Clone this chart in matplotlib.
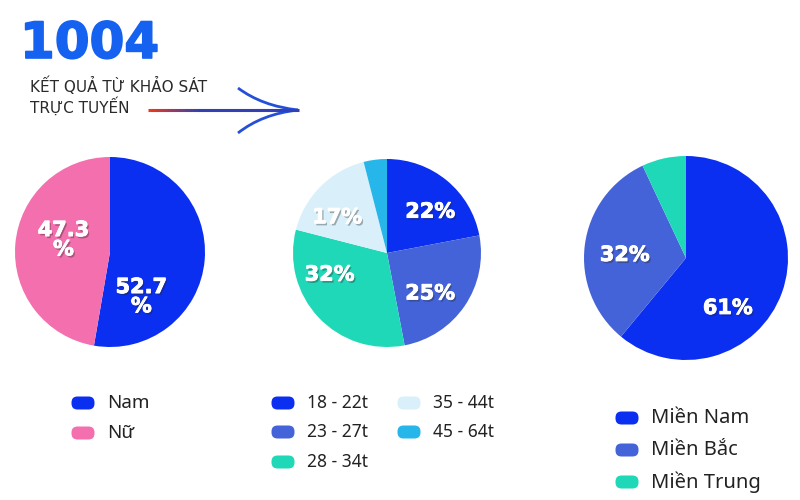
import matplotlib.pyplot as plt
import matplotlib.patheffects as pe
import numpy as np
from matplotlib.patches import FancyBboxPatch, PathPatch
from matplotlib.path import Path
from matplotlib.collections import LineCollection

plt.rcParams['font.family'] = ['Noto Sans', 'DejaVu Sans']

# data
gender_labels = ['Nam', 'Nữ']
gender_values = [52.7, 47.3]
gender_text = ['52.7\n%', '47.3\n%']
gender_colors = ['#0b2ff0', '#f46fae']

age_labels = ['18 - 22t', '23 - 27t', '28 - 34t', '35 - 44t', '45 - 64t']
age_values = [22, 25, 32, 17, 4]
age_text = ['22%', '25%', '32%', '17%', '']
age_colors = ['#0b2ff0', '#4563d8', '#1fd8b8', '#d9f0fb', '#27b6ea']

region_labels = ['Miền Nam', 'Miền Bắc', 'Miền Trung']
region_values = [61, 32, 7]
region_text = ['61%', '32%', '']
region_colors = ['#0b2ff0', '#4563d8', '#1fd8b8']

W, H = 800, 500
fig = plt.figure(figsize=(8, 5), dpi=100)
fig.patch.set_facecolor('white')

# overlay axes in pixel coords
ov = fig.add_axes([0, 0, 1, 1])
ov.set_xlim(0, W)
ov.set_ylim(H, 0)
ov.axis('off')


def pie_at(cx, cy, r, values, colors, texts, text_pos):
    ax = fig.add_axes([(cx - r) / W, (H - cy - r) / H, 2 * r / W, 2 * r / H])
    ax.pie(values, colors=colors, startangle=90, counterclock=False,
           radius=1, wedgeprops=dict(linewidth=0))
    ax.set_xlim(-1, 1)
    ax.set_ylim(-1, 1)
    ax.set_aspect('equal')
    ax.axis('off')
    fx = [pe.withSimplePatchShadow(offset=(1.2, -1.5), shadow_rgbFace='#222222', alpha=0.35),
          pe.withStroke(linewidth=0.6, foreground='white')]
    for t, (x, y) in zip(texts, text_pos):
        if t:
            ax.text(x, y, t, color='white', fontsize=15, fontweight='bold',
                    ha='center', va='center', linespacing=0.95,
                    family=['DejaVu Sans'], path_effects=fx)


pie_at(110, 252, 95, gender_values, gender_colors, gender_text,
       [(0.33, -0.47), (-0.49, 0.13)])
pie_at(387, 253, 94, age_values, age_colors, age_text,
       [(0.46, 0.44), (0.46, -0.43), (-0.61, -0.23), (-0.53, 0.38), (0, 0)])
pie_at(686, 258, 102, region_values, region_colors, region_text,
       [(0.41, -0.49), (-0.6, 0.03), (0, 0)])


def legend_item(x, y, color, label, size):
    ov.add_patch(FancyBboxPatch((x - 9, y - 4), 18, 8,
                                boxstyle='round,pad=2.5,rounding_size=6',
                                facecolor=color, edgecolor='none'))
    ov.text(x + 24, y, label, fontsize=size, color='#222222', va='center', ha='left')


for i, (lab, c) in enumerate(zip(gender_labels, gender_colors)):
    legend_item(83, 403 + 30 * i, c, lab, 13.5)

age_pos = [(283, 403), (283, 432), (283, 462), (409, 403), (409, 432)]
for (x, y), lab, c in zip(age_pos, age_labels, age_colors):
    legend_item(x, y, c, lab, 12.5)

for i, (lab, c) in enumerate(zip(region_labels, region_colors)):
    legend_item(627, 418 + 32 * i, c, lab, 14.5)

# title
ov.text(20, 44, '1004', fontsize=36, fontweight='heavy', color='#1662f0',
        va='center', ha='left', family=['DejaVu Sans'],
        path_effects=[pe.withStroke(linewidth=1.2, foreground='#1662f0')])
ov.text(30, 86, 'KẾT QUẢ TỪ KHẢO SÁT', fontsize=11, color='#2a2a2a', va='center', ha='left',
        family=['DejaVu Sans'])
ov.text(30, 106, 'TRỰC TUYẾN', fontsize=11, color='#2a2a2a', va='center', ha='left',
        family=['DejaVu Sans'])

# arrow decoration
xs = np.linspace(148, 298, 40)
segs = [[(xs[i], 110), (xs[i + 1] + 1, 110)] for i in range(len(xs) - 1)]
tt = np.clip(np.linspace(0, 1, len(segs)) * 3, 0, 1)
cols = [(0.92 * (1 - t) + 0.2 * t, 0.22 * (1 - t) + 0.25 * t, 0.12 * (1 - t) + 0.7 * t)
        for t in tt]
ov.add_collection(LineCollection(segs, colors=cols, linewidths=2.2, capstyle='butt'))
for y0, yc in [(88, 106), (133, 114)]:
    p = Path([(238, y0), (262, yc), (298, 110)], [Path.MOVETO, Path.CURVE3, Path.CURVE3])
    ov.add_patch(PathPatch(p, facecolor='none', edgecolor='#2450d8', linewidth=2))

fig.savefig('out.png', dpi=100, facecolor='white')
